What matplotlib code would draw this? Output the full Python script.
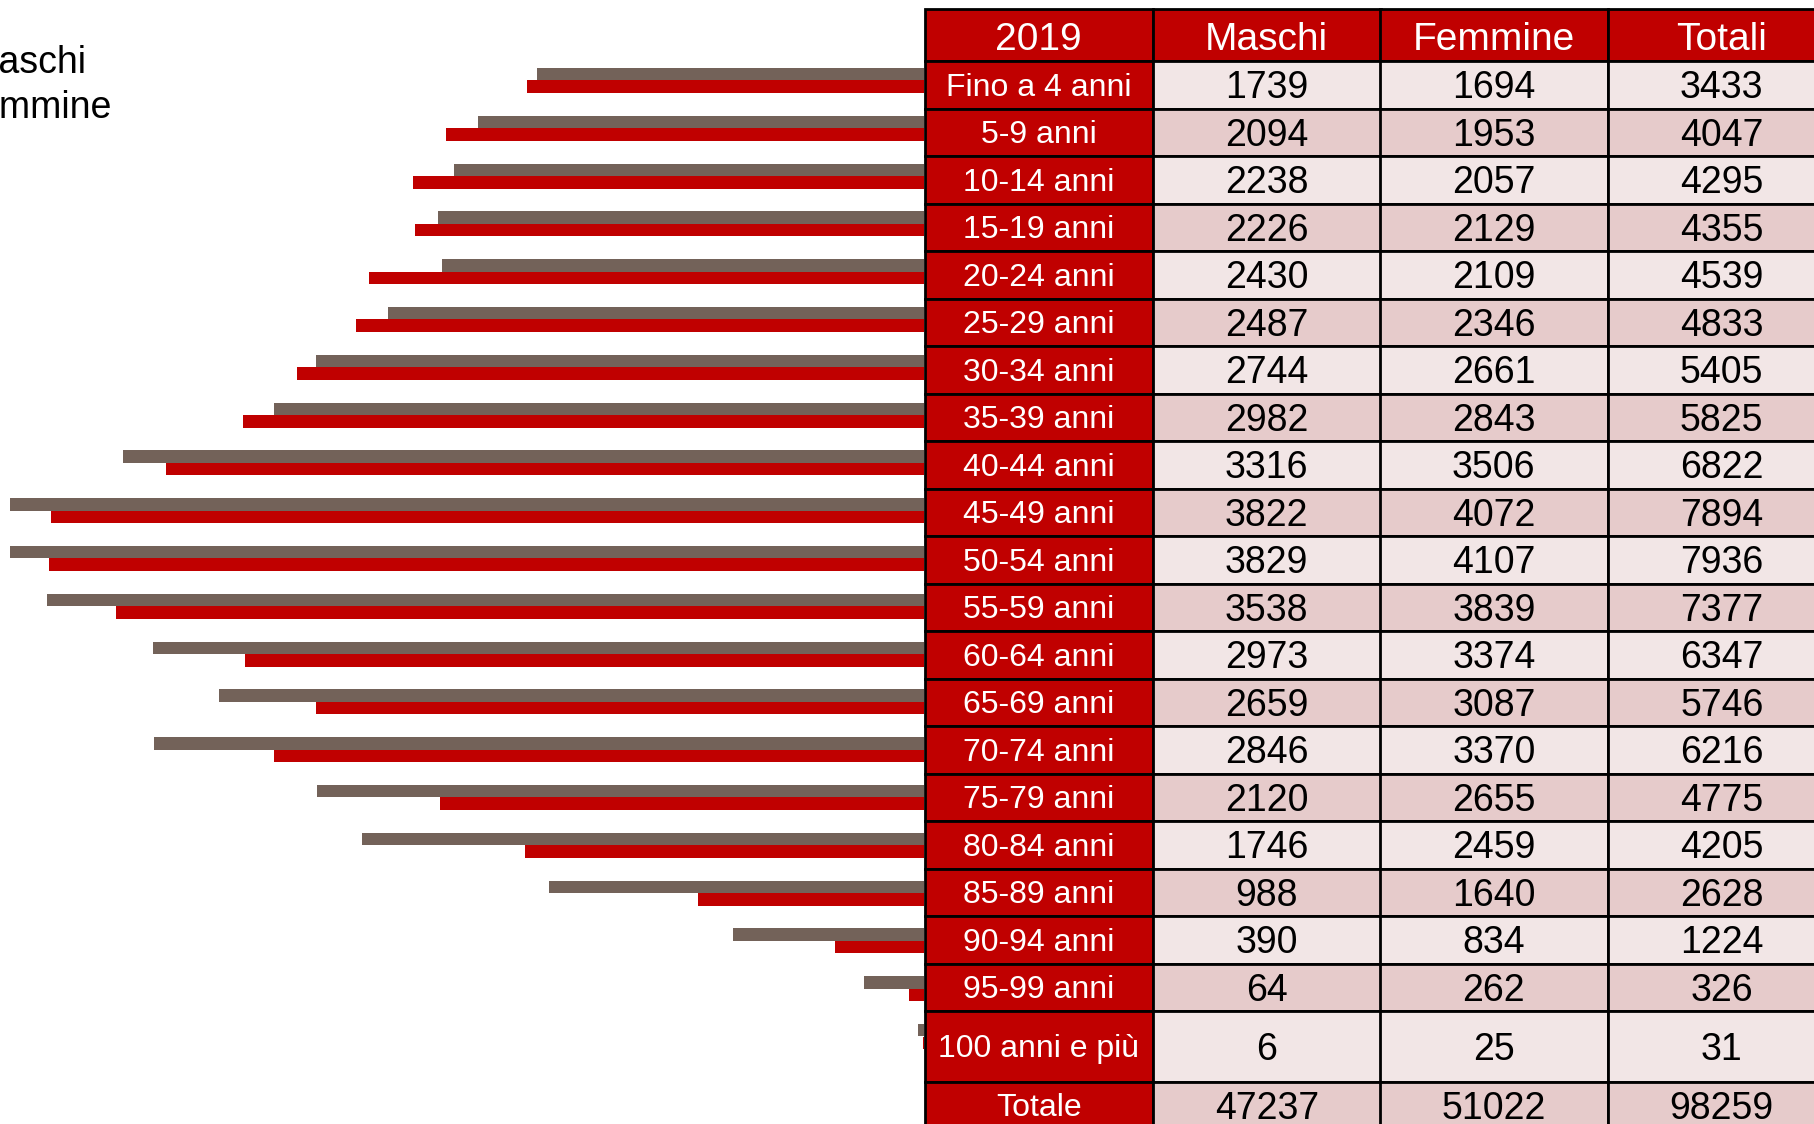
import matplotlib
matplotlib.use("Agg")
import matplotlib.pyplot as plt
from matplotlib.patches import Rectangle

# --- data -------------------------------------------------------------
age_groups = ["Fino a 4 anni", "5-9 anni", "10-14 anni", "15-19 anni",
              "20-24 anni", "25-29 anni", "30-34 anni", "35-39 anni",
              "40-44 anni", "45-49 anni", "50-54 anni", "55-59 anni",
              "60-64 anni", "65-69 anni", "70-74 anni", "75-79 anni",
              "80-84 anni", "85-89 anni", "90-94 anni", "95-99 anni",
              "100 anni e più"]
maschi = [1739, 2094, 2238, 2226, 2430, 2487, 2744, 2982, 3316, 3822, 3829,
          3538, 2973, 2659, 2846, 2120, 1746, 988, 390, 64, 6]
femmine = [1694, 1953, 2057, 2129, 2109, 2346, 2661, 2843, 3506, 4072, 4107,
           3839, 3374, 3087, 3370, 2655, 2459, 1640, 834, 262, 25]
totali = [3433, 4047, 4295, 4355, 4539, 4833, 5405, 5825, 6822, 7894, 7936,
          7377, 6347, 5746, 6216, 4775, 4205, 2628, 1224, 326, 31]
header = ["2019", "Maschi", "Femmine", "Totali"]
totale_label = "Totale"
totale_row = [47237, 51022, 98259]

# --- style ------------------------------------------------------------
RED = "#C00000"
GREY = "#736259"
LIGHT = "#F2E6E6"
DARK = "#E6CBCB"
W, H = 1814, 1124
plt.rcParams["font.family"] = ["Liberation Sans", "DejaVu Sans"]

fig = plt.figure(figsize=(W / 100, H / 100), dpi=100)

# --- pyramid bars (left) ----------------------------------------------
row_pitch = 47.8           # px between bar pairs
first_center = 80.5        # px from top of first pair centre
y_top = first_center - row_pitch / 2
y_bot = first_center + row_pitch * (len(age_groups) - 0.5)
x_left, x_right = 10, 924
ax = fig.add_axes([x_left / W, 1 - y_bot / H,
                   (x_right - x_left) / W, (y_bot - y_top) / H])
idx = range(len(age_groups))
bh = 12.5 / row_pitch
ax.barh([i - bh / 2 for i in idx], [-v for v in femmine], height=bh,
        color=GREY, label="Femmine")
ax.barh([i + bh / 2 for i in idx], [-v for v in maschi], height=bh,
        color=RED, label="Maschi")
ax.set_xlim(-4000, 0)
ax.set_ylim(len(age_groups) - 0.5, -0.5)
ax.axis("off")

# legend text, cut off at the left edge like the original
fig.text(-32 / W, 1 - 73 / H, "Maschi", fontsize=27, ha="left",
         va="baseline")
fig.text(-44 / W, 1 - 118 / H, "Femmine", fontsize=27, ha="left",
         va="baseline")

# --- table (right) ----------------------------------------------------
tab = fig.add_axes([0, 0, 1, 1], facecolor="none")
tab.set_xlim(0, W)
tab.set_ylim(H, 0)
tab.axis("off")

col_x = [925, 1153, 1380, 1608]
col_w = 227.5
header_top, header_h = 9, 52
row_h = 47.5
tall_h = 70.5


def cell(x, y, h, text, fill, color, size, dy):
    tab.add_patch(Rectangle((x, y), col_w, h, facecolor=fill,
                            edgecolor="black", linewidth=2, zorder=2))
    tab.text(x + col_w / 2, y + h / 2 + dy, text, color=color, fontsize=size,
             ha="center", va="center", zorder=3)


y = header_top
for j, lbl in enumerate(header):
    cell(col_x[j], y, header_h, lbl, RED, "white", 28, 4.5)
y += header_h

rows = [(age_groups[i], [maschi[i], femmine[i], totali[i]])
        for i in idx] + [(totale_label, totale_row)]
for r, (lbl, vals) in enumerate(rows):
    h = tall_h if lbl == "100 anni e più" else row_h
    fill = LIGHT if r % 2 == 0 else DARK
    cell(col_x[0], y, h, lbl, RED, "white", 23, 3)
    for j, v in enumerate(vals):
        cell(col_x[j + 1], y, h, str(v), fill, "black", 27, 3.5)
    y += h

fig.savefig("out.png", dpi=100)
